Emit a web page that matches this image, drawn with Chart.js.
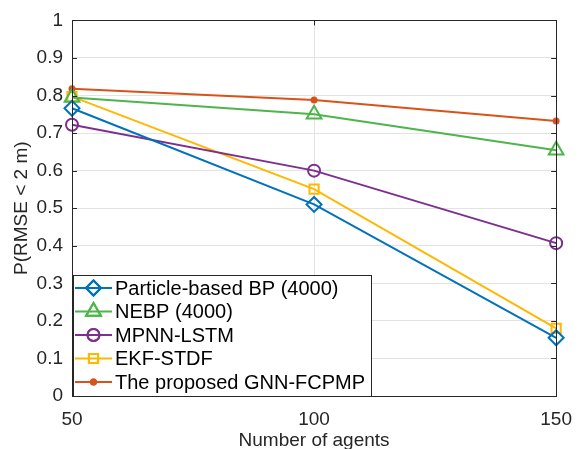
<!DOCTYPE html>
<html><head><meta charset="utf-8">
<script src="https://cdn.jsdelivr.net/npm/chart.js@4.4.0/dist/chart.umd.min.js"></script>
<style>html,body{margin:0;padding:0;background:#fff;}#wrap{width:584px;height:449px;}</style>
</head><body><div id="wrap"><canvas id="c" width="584" height="449"></canvas></div>
<script>
const agents = [50, 100, 150];
const particleBP = [0.766, 0.51, 0.155];
const nebp = [0.795, 0.75, 0.654];
const mpnnLstm = [0.722, 0.60, 0.407];
const ekfStdf = [0.797, 0.551, 0.18];
const gnnFcpmp = [0.818, 0.788, 0.732];
const yTicks = [0,0.1,0.2,0.3,0.4,0.5,0.6,0.7,0.8,0.9,1];
const seriesNames = ['Particle-based BP (4000)','NEBP (4000)','MPNN-LSTM','EKF-STDF','The proposed GNN-FCPMP'];

const FONT = '"Liberation Sans", Arial, sans-serif';
const cols = ['#0072BD','#4DB54A','#7E2F8E','#FFB800','#D95319'];
const styles = [['rectRot',7.5],['triangle',8.5],['circle',6],['rect',6.5],['circle',2.5]];
const vals = [particleBP, nebp, mpnnLstm, ekfStdf, gnnFcpmp];

const datasets = vals.map((v,i)=>({
  label: seriesNames[i],
  data: agents.map((a,j)=>({x:a,y:v[j]})),
  borderColor: cols[i],
  backgroundColor: i===4 ? cols[i] : 'rgba(0,0,0,0)',
  borderWidth: 2,
  pointStyle: styles[i][0],
  pointRadius: styles[i][1],
  pointBorderWidth: 2,
  pointBackgroundColor: i===4 ? cols[i] : 'rgba(0,0,0,0)',
  pointBorderColor: cols[i],
  tension: 0,
  clip: false
}));

const boxPlugin = {
  id:'box',
  afterDraw(chart){
    const {ctx, chartArea:a, scales} = chart;
    ctx.save();
    ctx.strokeStyle='#262626'; ctx.lineWidth=1;
    ctx.strokeRect(Math.round(a.left)+0.5, Math.round(a.top)+0.5, Math.round(a.right-a.left), Math.round(a.bottom-a.top));
    yTicks.forEach(t=>{
      const y=Math.round(scales.y.getPixelForValue(t))+0.5;
      ctx.beginPath(); ctx.moveTo(a.left,y); ctx.lineTo(a.left+5,y); ctx.moveTo(a.right,y); ctx.lineTo(a.right-5,y); ctx.stroke();
    });
    agents.forEach(t=>{
      const x=Math.round(scales.x.getPixelForValue(t))+0.5;
      ctx.beginPath(); ctx.moveTo(x,a.bottom); ctx.lineTo(x,a.bottom-5); ctx.moveTo(x,a.top); ctx.lineTo(x,a.top+5); ctx.stroke();
    });
    // legend
    const lx=73, ly=275, lw=298, lh=121;
    ctx.fillStyle='#fff'; ctx.fillRect(lx,ly,lw,lh);
    ctx.strokeStyle='#262626'; ctx.lineWidth=1; ctx.strokeRect(lx+0.5,ly+0.5,lw,lh);
    ctx.font='20px '+FONT; ctx.textBaseline='middle'; ctx.textAlign='left';
    seriesNames.forEach((n,i)=>{
      const y = 288+i*23.5;
      ctx.strokeStyle=cols[i]; ctx.lineWidth=2;
      ctx.beginPath(); ctx.moveTo(75,y); ctx.lineTo(112,y); ctx.stroke();
      ctx.fillStyle = i===4 ? cols[i] : 'rgba(0,0,0,0)';
      Chart.helpers.drawPoint(ctx,{pointStyle:styles[i][0],radius:styles[i][1],borderWidth:2},93.5,y);
      if(i===4){ctx.fill();}
      ctx.stroke();
      ctx.fillStyle='#000';
      ctx.fillText(n,115,y+1);
    });
    ctx.restore();
  }
};

new Chart(document.getElementById('c'),{
  type:'line',
  data:{datasets},
  plugins:[boxPlugin],
  options:{
    responsive:false, animation:false,
    layout:{padding:{left:0,right:26,top:15,bottom:-3}},
    plugins:{legend:{display:false},tooltip:{enabled:false}},
    scales:{
      x:{type:'linear',min:50,max:150,
        afterBuildTicks(s){s.ticks=agents.map(v=>({value:v}));},
        afterFit(s){s.height=56;},
        grid:{color:'#e3e3e3',drawTicks:false},
        border:{display:false},
        ticks:{font:{family:FONT,size:19},color:'#262626',padding:12,maxRotation:0},
        title:{display:true,text:'Number of agents',font:{family:FONT,size:19},color:'#262626',padding:{top:0,bottom:0}}
      },
      y:{min:0,max:1,
        afterBuildTicks(s){s.ticks=yTicks.map(v=>({value:v}));},
        afterFit(s){s.width=72;},
        grid:{color:'#e3e3e3',drawTicks:false},
        border:{display:false},
        ticks:{font:{family:FONT,size:19},color:'#262626',padding:9,callback:v=>String(v)},
        title:{display:true,text:'P(RMSE < 2 m)',font:{family:FONT,size:19},color:'#262626',padding:{top:10,bottom:0}}
      }
    }
  }
});
</script></body></html>
